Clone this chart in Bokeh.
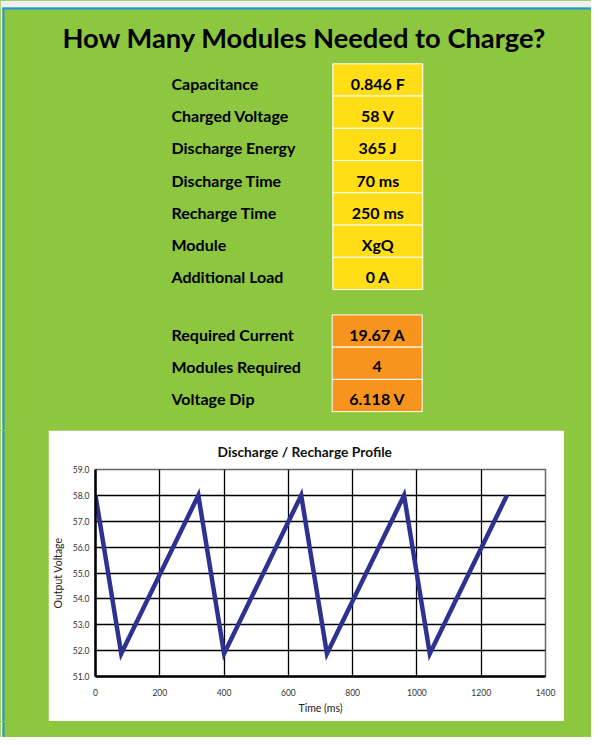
from bokeh.plotting import figure
from bokeh.models import Range1d, NumeralTickFormatter, FixedTicker
from bokeh.layouts import column, row
from bokeh.embed import file_html
from bokeh.resources import INLINE
from bokeh.core.properties import value

GREEN = "#8dc63f"
BLUE = "#1b9ad7"
GREY = "#f0f0f0"
YELLOW = "#ffde17"
ORANGE = "#f7941d"
NAVY = "#2e3192"
FONT = "Lato"

# ---------------- data ----------------
title_text = "How Many Modules Needed to Charge?"
input_labels = ["Capacitance", "Charged Voltage", "Discharge Energy", "Discharge Time",
                "Recharge Time", "Module", "Additional Load"]
input_values = ["0.846 F", "58 V", "365 J", "70 ms", "250 ms", "XgQ", "0 A"]
result_labels = ["Required Current", "Modules Required", "Voltage Dip"]
result_values = ["19.67 A", "4", "6.118 V"]

chart_title = "Discharge / Recharge Profile"
time_ms = [0, 80, 320, 400, 640, 720, 960, 1040, 1280]
voltage = [58.0, 51.88, 58.0, 51.88, 58.0, 51.88, 58.0, 51.88, 58.0]
x_ticks = [0, 200, 400, 600, 800, 1000, 1200, 1400]
y_ticks = [51, 52, 53, 54, 55, 56, 57, 58, 59]

# ---------------- layout sizes ----------------
W, H = 591, 737
TOP_H = 430
CH_L, CH_W, CH_H = 48, 516, 291
RIGHT_W = W - CH_L - CH_W
BOT_H = H - TOP_H - CH_H


def blank(w, h, left_edge=True):
    p = figure(width=w, height=h, x_range=Range1d(0, w), y_range=Range1d(h, 0),
               x_axis_type=None, y_axis_type=None, toolbar_location=None,
               output_backend="svg", min_border=0, background_fill_color=GREEN,
               border_fill_color=GREEN, outline_line_color=None, frame_align=False)
    p.grid.visible = False
    if left_edge:
        p.quad(left=0, right=2, top=0, bottom=h, fill_color=GREY, line_color=None)
        p.quad(left=2, right=4, top=0, bottom=h, fill_color=BLUE, line_color=None)
    return p


# ---------------- top: title + tables ----------------
pt = blank(W, TOP_H)
pt.quad(left=0, right=W, top=0, bottom=7, fill_color=GREY, line_color=None)
pt.quad(left=2, right=W, top=7, bottom=9, fill_color=BLUE, line_color=None)
pt.text(x=[304], y=[37], text=[title_text], text_align="center",
        text_baseline="alphabetic", text_font=value(FONT), text_font_style="bold",
        text_font_size="27.3px", text_color="black")

row_h = 32.25
n_in = len(input_labels)
in_cy = [79.45 + row_h * i for i in range(n_in)]
in_base = [c + 3.4 for c in in_cy]
pt.rect(x=[377.3] * n_in, y=in_cy, width=90, height=row_h, fill_color=YELLOW,
        line_color="white", line_width=1)
pt.text(x=[171] * n_in, y=in_base, text=input_labels, text_align="left",
        text_baseline="alphabetic", text_font=value(FONT), text_font_style="bold",
        text_font_size="16px", text_color="black")
pt.text(x=[377.3] * n_in, y=in_base, text=input_values, text_align="center",
        text_baseline="alphabetic", text_font=value(FONT), text_font_style="bold",
        text_font_size="16px", text_color="black")

n_out = len(result_labels)
out_cy = [330.5 + row_h * j for j in range(n_out)]
out_base = [c + 3.4 for c in out_cy]
pt.rect(x=[376.7] * n_out, y=out_cy, width=90, height=row_h, fill_color=ORANGE,
        line_color="white", line_width=1)
pt.text(x=[171] * n_out, y=out_base, text=result_labels, text_align="left",
        text_baseline="alphabetic", text_font=value(FONT), text_font_style="bold",
        text_font_size="16px", text_color="black")
pt.text(x=[376.7] * n_out, y=out_base, text=result_values, text_align="center",
        text_baseline="alphabetic", text_font=value(FONT), text_font_style="bold",
        text_font_size="16px", text_color="black")

# ---------------- side spacers ----------------
pl = blank(CH_L, CH_H)
pr = blank(RIGHT_W, CH_H, left_edge=False)
pb = blank(W, BOT_H)

# ---------------- chart ----------------
pc = figure(width=CH_W, height=CH_H, x_range=Range1d(0, 1400), y_range=Range1d(51, 59),
            toolbar_location=None, output_backend="svg", frame_align=False,
            min_border_left=45, min_border_right=19, min_border_top=39, min_border_bottom=45,
            background_fill_color="white", border_fill_color="white",
            outline_line_color="#666666", outline_line_width=1.5, title=chart_title)
pc.title.align = "left"
pc.title.offset = 122
pc.title.standoff = 19
pc.title.text_font = FONT
pc.title.text_font_style = "bold"
pc.title.text_font_size = "13.8px"
pc.title.text_color = "#111111"

pc.xaxis.ticker = FixedTicker(ticks=x_ticks)
pc.yaxis.ticker = FixedTicker(ticks=y_ticks)
pc.yaxis.formatter = NumeralTickFormatter(format="0.0")
for ax in (pc.xaxis, pc.yaxis):
    ax.axis_line_width = 2.5
    ax.axis_line_color = "black"
    ax.major_tick_in = 0
    ax.major_tick_out = 0
    ax.minor_tick_line_color = None
    ax.major_label_text_font = FONT
    ax.major_label_text_font_size = "8.5px"
    ax.major_label_text_color = "#333333"
    ax.axis_label_text_font = FONT
    ax.axis_label_text_font_size = "10.5px"
    ax.axis_label_text_font_style = "normal"
    ax.axis_label_text_color = "#222222"
pc.xaxis.axis_label = "Time (ms)"
pc.yaxis.axis_label = "Output Voltage"
pc.xaxis.major_label_standoff = 12
pc.xaxis.axis_label_standoff = 3
pc.yaxis.major_label_standoff = 6
pc.yaxis.axis_label_standoff = 6

pc.xgrid.ticker = FixedTicker(ticks=x_ticks)
pc.ygrid.ticker = FixedTicker(ticks=y_ticks)
pc.grid.grid_line_color = "black"
pc.grid.grid_line_width = 1.3
pc.grid.grid_line_alpha = 1.0

pc.line(time_ms, voltage, line_color=NAVY, line_width=4.5, line_join="miter")

layout = column(pt, row(pl, pc, pr, styles={"background-color": GREEN}), pb,
                styles={"background-color": GREEN})

open("out.html", "w").write(file_html(layout, INLINE))
